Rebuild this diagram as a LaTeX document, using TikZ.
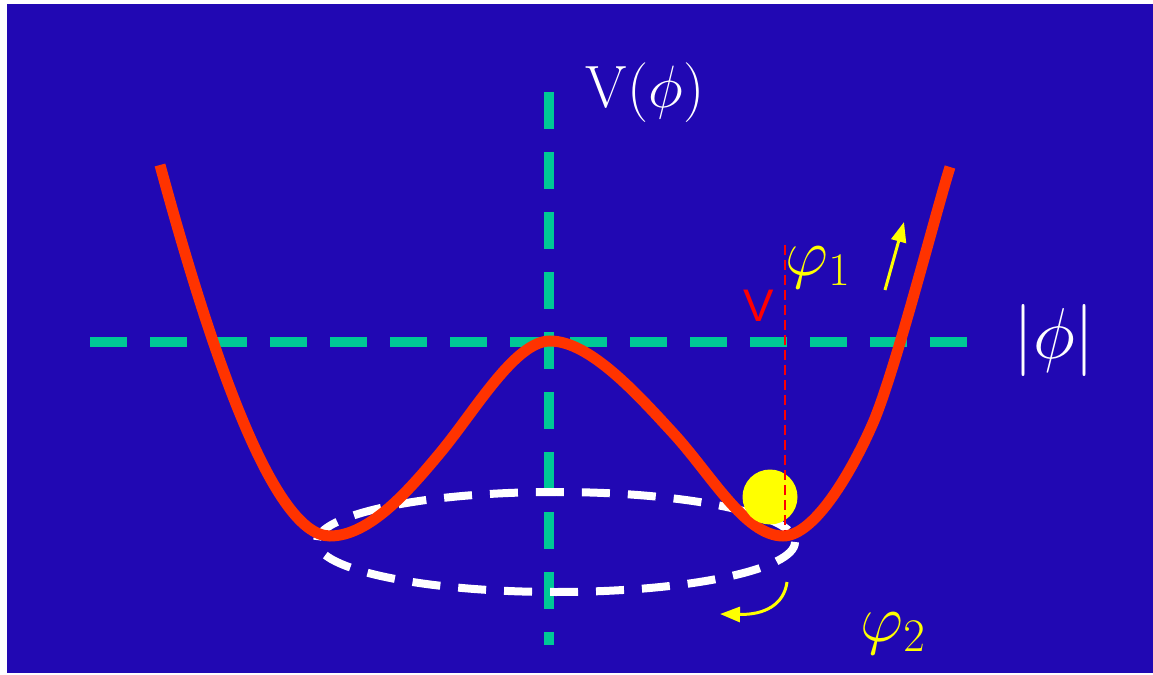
\RequirePackage{fix-cm}
\documentclass[tikz,border=0pt]{standalone}
\usepackage{fontspec}
\newfontfamily\marksans{Liberation Sans}
\usetikzlibrary{arrows.meta}
\definecolor{cBack}{HTML}{2108B3}
\definecolor{cAxis}{HTML}{00C896}
\definecolor{cCurve}{HTML}{FF3300}
\definecolor{cBall}{HTML}{FFFF00}
\definecolor{cMark}{HTML}{FF0000}

\tikzset{
  axisline/.style={draw=cAxis, line width=0.2cm, dash pattern=on 0.74cm off 0.46cm},
  ringline/.style={draw=white, line width=0.16cm, dash pattern=on 0.56cm off 0.36cm},
  spinarrow/.style={draw=cBall, line width=0.06cm, -{Triangle[length=0.4cm, width=0.3cm]}},
  mathlabel/.style={inner sep=0pt, text=white},
}

\begin{document}
\begin{tikzpicture}[x=0.02cm, y=-0.02cm]
  % background
  \fill[white] (0,0) rectangle (1153,675);
  \fill[cBack] (7,4) rectangle (1153,673);

  % axes
  \coordinate (vtop) at (549,92);
  \coordinate (vbot) at (549,645);
  \coordinate (hleft) at (90,342);
  \coordinate (hright) at (975,342);
  \draw[axisline] (vtop) -- (vbot);
  \draw[axisline] (hleft) -- (hright);

  % ring of minima
  \draw[ringline] (556,542) ellipse [x radius=239, y radius=50];

  % potential
  \draw[cCurve, line width=0.22cm] (160,165)
    .. controls (205,330) and (270,536) .. (330,536)
    .. controls (370,536) and (410,489) .. (440,453)
    .. controls (475,411) and (515,341) .. (550,341)
    .. controls (590,341) and (638,395) .. (673,433)
    .. controls (710,473) and (745,536) .. (783,536)
    .. controls (815,536) and (853,469) .. (873,423)
    .. controls (895,372) and (935,215) .. (950,167);

  % ball and its height
  \node[circle, fill=cBall, inner sep=0pt, minimum size=1.1cm] (ball) at (770,497) {};
  \coordinate (mtop) at (785,245);
  \coordinate (mbot) at (785,530);
  \draw[cMark, line width=0.04cm, dash pattern=on 0.2cm off 0.1cm] (mtop) -- (mbot);

  % motions
  \coordinate (upfrom) at (885,290);
  \coordinate (upto) at (904,222);
  \draw[spinarrow] (upfrom) -- (upto);
  \coordinate (turnfrom) at (787,582);
  \coordinate (turnto) at (720,614);
  \draw[spinarrow] (turnfrom) .. controls (784,605) and (764,615) .. (turnto);

  % labels
  \node[mathlabel, font=\fontsize{34}{40}\selectfont] (vlabel) at (645,93) {$\mathrm{V}(\phi)$};
  \node[mathlabel, font=\fontsize{41}{48}\selectfont] (normlabel) at (1054,340) {$|\phi|$};
  \node[mathlabel, text=cBall, font=\fontsize{38}{44}\selectfont] (phione) at (818,268) {$\varphi_1$};
  \node[mathlabel, text=cBall, font=\fontsize{38}{44}\selectfont] (phitwo) at (893,634) {$\varphi_2$};
  \node[inner sep=0pt, text=cMark, font=\marksans\fontsize{26}{30}\selectfont] (vevmark) at (759,306) {V};
\end{tikzpicture}
\end{document}
